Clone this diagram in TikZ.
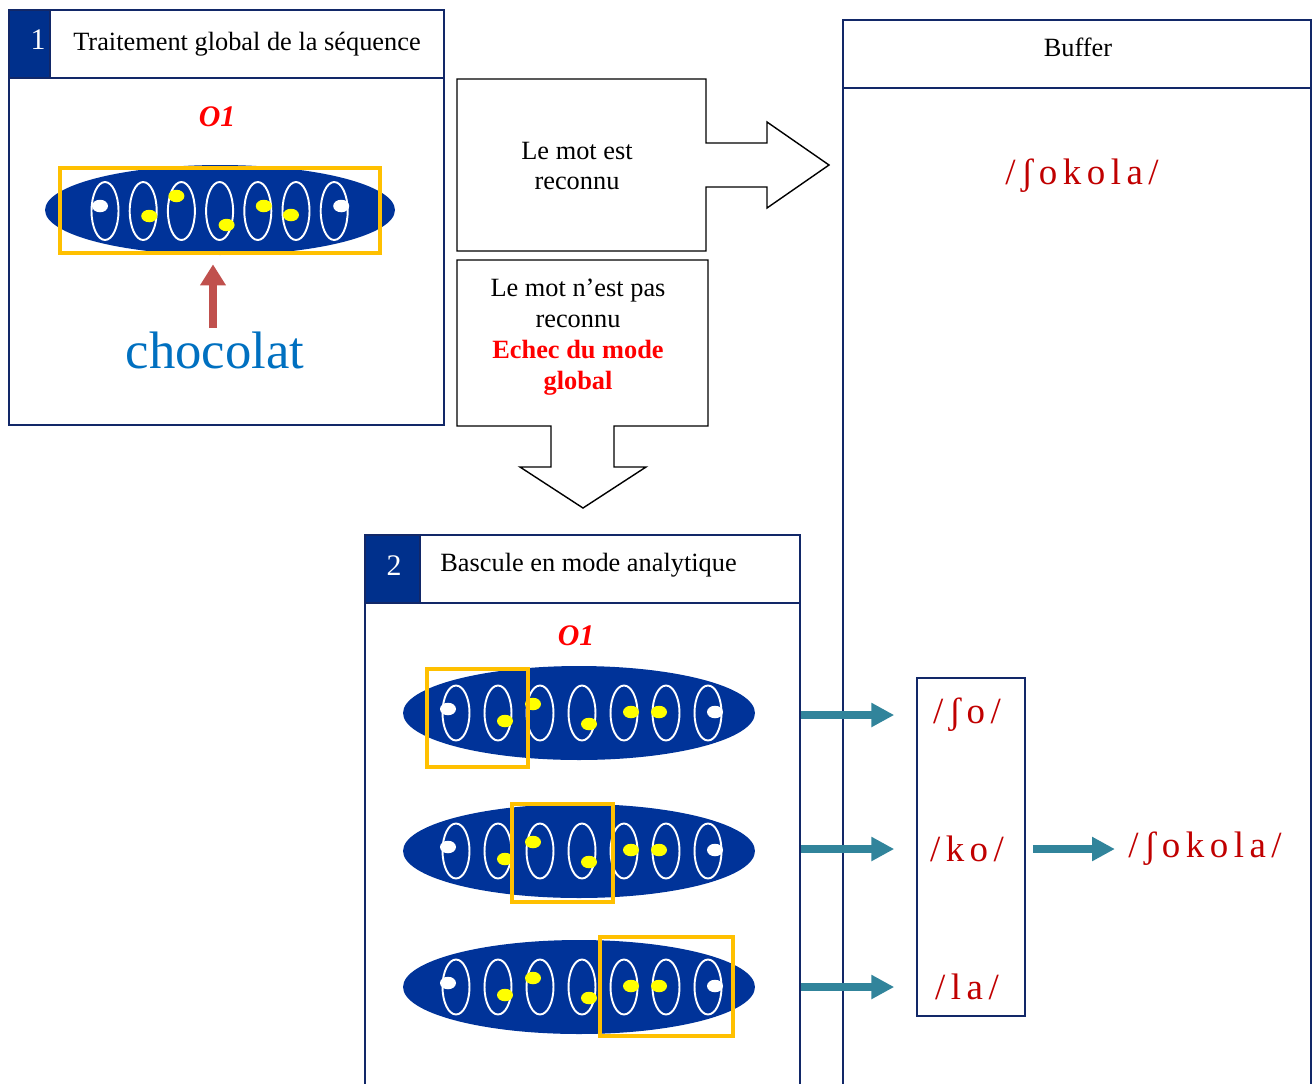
\documentclass[tikz,border=0pt]{standalone}
\usepackage{fontspec}
\setmainfont{Liberation Serif}
\newfontfamily\ipafont[LetterSpace=15]{Liberation Serif}
\usepackage{tikz}
\usetikzlibrary{shapes.geometric,arrows.meta}
\definecolor{boxblue}{RGB}{18,40,104}
\definecolor{numblue}{RGB}{0,48,140}
\definecolor{navyfill}{RGB}{0,51,153}
\definecolor{selyellow}{RGB}{255,192,0}
\definecolor{dotyellow}{RGB}{255,255,0}
\definecolor{arrowred}{RGB}{192,80,77}
\definecolor{wordblue}{RGB}{0,112,192}
\definecolor{tealarrow}{RGB}{49,132,155}
\definecolor{ipared}{RGB}{192,0,0}

\begin{document}
\begin{tikzpicture}[
  x=0.02cm, y=-0.02cm,
  every node/.style={inner sep=0pt},
  panel/.style={rectangle, draw=boxblue, line width=1.2pt},
  numsq/.style={panel, fill=numblue},
  numtxt/.style={text=white, font=\fontsize{17}{20}\selectfont},
  lbl/.style={font=\fontsize{15}{17.6}\selectfont, align=center},
  otxt/.style={text=red, font=\fontsize{17}{20}\selectfont\bfseries\itshape},
  bigell/.style={ellipse, fill=navyfill},
  syl/.style={ellipse, draw=white, line width=1.1pt,
    minimum width=0.54cm, minimum height=1.1cm},
  sdot/.style={ellipse, minimum width=0.32cm, minimum height=0.25cm},
  selbox/.style={draw=selyellow, line width=2.4pt},
  blockarr/.style={draw=black, line width=0.8pt, fill=white},
  tealarr/.style={draw=tealarrow, line width=4.6pt,
    -{Triangle[width=13pt,length=13pt]}},
  ipa/.style={text=ipared, font=\ipafont\fontsize{21}{24}\selectfont}
]
\clip (0,0) rectangle (1312,1083);
\useasboundingbox (0,0) rectangle (1312,1083);

% panel 1
\node[panel, minimum width=8.7cm, minimum height=8.3cm] (p1) at (226.5,217.5) {};
\node[panel, minimum width=7.88cm, minimum height=1.36cm] (h1) at (247,44)
  {\fontsize{15}{17.6}\selectfont Traitement global de la séquence};
\node[numsq, minimum width=0.82cm, minimum height=1.36cm] (n1) at (29.5,44) {};
\node[numtxt] (n1t) at (38,40) {1};
\node[otxt] (o1a) at (217,117) {O1};
\node[bigell, minimum width=7cm, minimum height=1.8cm] (w1) at (220,210) {};
\foreach \i/\dx/\dy/\c in {1/-5/-5/white, 2/6/5/dotyellow, 3/-5/-15/dotyellow,
    4/7/14/dotyellow, 5/6/-5/dotyellow, 6/-5/4/dotyellow, 7/7/-5/white} {
  \node[syl, minimum height=1.16cm] (w1s\i) at ({105+38.2*(\i-1)},211) {};
  \node[sdot, fill=\c] (w1d\i) at ({105+38.2*(\i-1)+\dx},{211+\dy}) {};
}
\draw[selbox] (60,168) rectangle (380,253);
\node[text=wordblue, font=\fontsize{30}{34}\selectfont] (choc) at (215,350) {chocolat};
\draw[draw=arrowred, line width=4pt, -{Triangle[width=14pt,length=12pt]},
  shorten <=0.06cm, shorten >=0.18cm] ([xshift=-0.04cm]choc.north) -- ([xshift=-0.04cm]choc.north |- w1.south);

% block arrows
\draw[blockarr] (457,79) -- (706,79) -- (706,143) -- (767,143) -- (767,122)
  -- (829,165) -- (767,208) -- (767,187) -- (706,187) -- (706,251) -- (457,251) -- cycle;
\node[lbl] (ok) at (577,166) {Le mot est\\reconnu};
\draw[blockarr] (457,260) -- (708,260) -- (708,426) -- (614,426) -- (614,467)
  -- (646,467) -- (583,508) -- (520,467) -- (551,467) -- (551,426) -- (457,426) -- cycle;
\node[lbl] (nok) at (578,337) {Le mot n’est pas\\reconnu\\
  \textcolor{red}{\bfseries Echec du mode}\\\textcolor{red}{\bfseries global}};

% buffer
\node[panel, minimum width=9.36cm, minimum height=21.6cm] (buf) at (1077,560) {};
\node[panel, minimum width=9.36cm, minimum height=1.36cm] (bufh) at (1077,54) {};
\node[lbl] (buft) at (1078,47) {Buffer};
\node[ipa] (bufw) at (1082,176) {/ʃokola/};

% panel 2
\node[panel, minimum width=8.7cm, minimum height=11.3cm] (p2) at (582.5,817.5) {};
\node[panel, minimum width=7.6cm, minimum height=1.36cm] (h2) at (610,569) {};
\node[lbl, anchor=west] (h2t) at (440,565) {Bascule en mode analytique};
\node[numsq, minimum width=1.1cm, minimum height=1.36cm] (n2) at (392.5,569) {};
\node[numtxt] (n2t) at (394,566) {2};
\node[otxt] (o1b) at (576,636) {O1};
\foreach \r/\y in {1/713,2/851,3/987} {
  \node[bigell, minimum width=7.04cm, minimum height=1.88cm] (r\r) at (579,\y) {};
  \foreach \i/\dx/\dy/\c in {1/-8/-4/white, 2/7/8/dotyellow, 3/-7/-9/dotyellow,
      4/7/11/dotyellow, 5/7/-1/dotyellow, 6/-7/-1/dotyellow, 7/7/-1/white} {
    \node[syl] (r\r s\i) at ({456+42*(\i-1)},\y) {};
    \node[sdot, fill=\c] (r\r d\i) at ({456+42*(\i-1)+\dx},{\y+\dy}) {};
  }
}
\draw[selbox] (427,669) rectangle (528,767);
\draw[selbox] (512,804) rectangle (613,902);
\draw[selbox] (600,937) rectangle (733,1036);

% syllables
\node[panel, line width=0.9pt, minimum width=2.16cm, minimum height=6.76cm] (sbox) at (971,847) {};
\node[ipa] (so) at (967,715) {/ʃo/};
\node[ipa] (ko) at (967,849) {/ko/};
\node[ipa] (la) at (967,987) {/la/};
\node[ipa] (word) at (1205,849) {/ʃokola/};
\draw[tealarr, shorten >=0.44cm] (p2.east |- so) -- (sbox.west |- so);
\draw[tealarr, shorten >=0.44cm] (p2.east |- ko) -- (sbox.west |- ko);
\draw[tealarr, shorten >=0.44cm] (p2.east |- la) -- (sbox.west |- la);
\draw[tealarr, shorten <=0.14cm, shorten >=0.26cm] (sbox.east |- word) -- (word.west);
\end{tikzpicture}
\end{document}
